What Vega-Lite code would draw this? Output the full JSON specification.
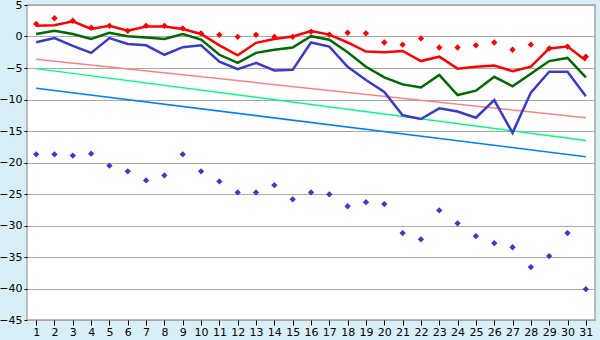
{
  "$schema": "https://vega.github.io/schema/vega-lite/v6.json",
  "autosize": "none",
  "width": 568,
  "height": 315,
  "padding": {"left": 27, "top": 5, "right": 5, "bottom": 20},
  "background": "#d9eff7",
  "config": {
    "view": {"fill": "white", "stroke": "#a8a8a8", "strokeWidth": 1.5},
    "axis": {"labelFont": "DejaVu Sans", "labelFontSize": 11, "labelColor": "#000000", "domain": false}
  },
  "datasets": {
    "lines": [
      {"day": 1, "series": "blue", "value": -0.9}, {"day": 2, "series": "blue", "value": -0.26}, {"day": 3, "series": "blue", "value": -1.5}, {"day": 4, "series": "blue", "value": -2.6}, {"day": 5, "series": "blue", "value": -0.26}, {"day": 6, "series": "blue", "value": -1.2}, {"day": 7, "series": "blue", "value": -1.4}, {"day": 8, "series": "blue", "value": -2.9}, {"day": 9, "series": "blue", "value": -1.7}, {"day": 10, "series": "blue", "value": -1.4}, {"day": 11, "series": "blue", "value": -4.0}, {"day": 12, "series": "blue", "value": -5.2}, {"day": 13, "series": "blue", "value": -4.2}, {"day": 14, "series": "blue", "value": -5.4}, {"day": 15, "series": "blue", "value": -5.3}, {"day": 16, "series": "blue", "value": -0.95}, {"day": 17, "series": "blue", "value": -1.6}, {"day": 18, "series": "blue", "value": -4.8}, {"day": 19, "series": "blue", "value": -6.9}, {"day": 20, "series": "blue", "value": -8.8}, {"day": 21, "series": "blue", "value": -12.5}, {"day": 22, "series": "blue", "value": -13.1}, {"day": 23, "series": "blue", "value": -11.4}, {"day": 24, "series": "blue", "value": -11.9}, {"day": 25, "series": "blue", "value": -12.9}, {"day": 26, "series": "blue", "value": -10.1}, {"day": 27, "series": "blue", "value": -15.3}, {"day": 28, "series": "blue", "value": -8.9}, {"day": 29, "series": "blue", "value": -5.6}, {"day": 30, "series": "blue", "value": -5.6}, {"day": 31, "series": "blue", "value": -9.5},
      {"day": 1, "series": "green", "value": 0.4}, {"day": 2, "series": "green", "value": 0.9}, {"day": 3, "series": "green", "value": 0.4}, {"day": 4, "series": "green", "value": -0.4}, {"day": 5, "series": "green", "value": 0.6}, {"day": 6, "series": "green", "value": 0.05}, {"day": 7, "series": "green", "value": -0.15}, {"day": 8, "series": "green", "value": -0.4}, {"day": 9, "series": "green", "value": 0.4}, {"day": 10, "series": "green", "value": -0.5}, {"day": 11, "series": "green", "value": -2.9}, {"day": 12, "series": "green", "value": -4.2}, {"day": 13, "series": "green", "value": -2.6}, {"day": 14, "series": "green", "value": -2.1}, {"day": 15, "series": "green", "value": -1.75}, {"day": 16, "series": "green", "value": 0.05}, {"day": 17, "series": "green", "value": -0.5}, {"day": 18, "series": "green", "value": -2.5}, {"day": 19, "series": "green", "value": -4.8}, {"day": 20, "series": "green", "value": -6.5}, {"day": 21, "series": "green", "value": -7.6}, {"day": 22, "series": "green", "value": -8.1}, {"day": 23, "series": "green", "value": -6.1}, {"day": 24, "series": "green", "value": -9.3}, {"day": 25, "series": "green", "value": -8.6}, {"day": 26, "series": "green", "value": -6.4}, {"day": 27, "series": "green", "value": -7.9}, {"day": 28, "series": "green", "value": -5.9}, {"day": 29, "series": "green", "value": -3.9}, {"day": 30, "series": "green", "value": -3.4}, {"day": 31, "series": "green", "value": -6.5},
      {"day": 1, "series": "red", "value": 1.7}, {"day": 2, "series": "red", "value": 1.8}, {"day": 3, "series": "red", "value": 2.4}, {"day": 4, "series": "red", "value": 1.2}, {"day": 5, "series": "red", "value": 1.7}, {"day": 6, "series": "red", "value": 0.9}, {"day": 7, "series": "red", "value": 1.6}, {"day": 8, "series": "red", "value": 1.6}, {"day": 9, "series": "red", "value": 1.2}, {"day": 10, "series": "red", "value": 0.4}, {"day": 11, "series": "red", "value": -1.4}, {"day": 12, "series": "red", "value": -3.0}, {"day": 13, "series": "red", "value": -1.0}, {"day": 14, "series": "red", "value": -0.4}, {"day": 15, "series": "red", "value": 0.0}, {"day": 16, "series": "red", "value": 0.85}, {"day": 17, "series": "red", "value": 0.3}, {"day": 18, "series": "red", "value": -0.95}, {"day": 19, "series": "red", "value": -2.4}, {"day": 20, "series": "red", "value": -2.5}, {"day": 21, "series": "red", "value": -2.3}, {"day": 22, "series": "red", "value": -3.9}, {"day": 23, "series": "red", "value": -3.2}, {"day": 24, "series": "red", "value": -5.1}, {"day": 25, "series": "red", "value": -4.8}, {"day": 26, "series": "red", "value": -4.6}, {"day": 27, "series": "red", "value": -5.5}, {"day": 28, "series": "red", "value": -4.8}, {"day": 29, "series": "red", "value": -1.9}, {"day": 30, "series": "red", "value": -1.6}, {"day": 31, "series": "red", "value": -3.8}
    ],
    "trends": [
      {"day": 1, "series": "pink", "value": -3.6}, {"day": 31, "series": "pink", "value": -12.9},
      {"day": 1, "series": "lightgreen", "value": -5.1}, {"day": 31, "series": "lightgreen", "value": -16.5},
      {"day": 1, "series": "lightblue", "value": -8.2}, {"day": 31, "series": "lightblue", "value": -19.1}
    ],
    "points": [
      {"day": 1, "series": "red", "value": 2.0}, {"day": 2, "series": "red", "value": 2.9}, {"day": 3, "series": "red", "value": 2.5}, {"day": 4, "series": "red", "value": 1.4}, {"day": 5, "series": "red", "value": 1.7}, {"day": 6, "series": "red", "value": 0.9}, {"day": 7, "series": "red", "value": 1.7}, {"day": 8, "series": "red", "value": 1.7}, {"day": 9, "series": "red", "value": 1.3}, {"day": 10, "series": "red", "value": 0.5}, {"day": 11, "series": "red", "value": 0.26}, {"day": 12, "series": "red", "value": -0.05}, {"day": 13, "series": "red", "value": 0.26}, {"day": 14, "series": "red", "value": -0.05}, {"day": 15, "series": "red", "value": -0.05}, {"day": 16, "series": "red", "value": 0.75}, {"day": 17, "series": "red", "value": 0.3}, {"day": 18, "series": "red", "value": 0.6}, {"day": 19, "series": "red", "value": 0.5}, {"day": 20, "series": "red", "value": -0.95}, {"day": 21, "series": "red", "value": -1.3}, {"day": 22, "series": "red", "value": -0.3}, {"day": 23, "series": "red", "value": -1.75}, {"day": 24, "series": "red", "value": -1.75}, {"day": 25, "series": "red", "value": -1.4}, {"day": 26, "series": "red", "value": -0.95}, {"day": 27, "series": "red", "value": -2.1}, {"day": 28, "series": "red", "value": -1.3}, {"day": 29, "series": "red", "value": -1.9}, {"day": 30, "series": "red", "value": -1.6}, {"day": 31, "series": "red", "value": -3.2},
      {"day": 1, "series": "blue", "value": -18.7}, {"day": 2, "series": "blue", "value": -18.7}, {"day": 3, "series": "blue", "value": -18.9}, {"day": 4, "series": "blue", "value": -18.6}, {"day": 5, "series": "blue", "value": -20.5}, {"day": 6, "series": "blue", "value": -21.4}, {"day": 7, "series": "blue", "value": -22.85}, {"day": 8, "series": "blue", "value": -22.05}, {"day": 9, "series": "blue", "value": -18.7}, {"day": 10, "series": "blue", "value": -21.4}, {"day": 11, "series": "blue", "value": -23.0}, {"day": 12, "series": "blue", "value": -24.75}, {"day": 13, "series": "blue", "value": -24.75}, {"day": 14, "series": "blue", "value": -23.6}, {"day": 15, "series": "blue", "value": -25.85}, {"day": 16, "series": "blue", "value": -24.75}, {"day": 17, "series": "blue", "value": -25.05}, {"day": 18, "series": "blue", "value": -26.95}, {"day": 19, "series": "blue", "value": -26.3}, {"day": 20, "series": "blue", "value": -26.6}, {"day": 21, "series": "blue", "value": -31.2}, {"day": 22, "series": "blue", "value": -32.2}, {"day": 23, "series": "blue", "value": -27.6}, {"day": 24, "series": "blue", "value": -29.65}, {"day": 25, "series": "blue", "value": -31.7}, {"day": 26, "series": "blue", "value": -32.8}, {"day": 27, "series": "blue", "value": -33.45}, {"day": 28, "series": "blue", "value": -36.6}, {"day": 29, "series": "blue", "value": -34.85}, {"day": 30, "series": "blue", "value": -31.2}, {"day": 31, "series": "blue", "value": -40.1}
    ]
  },
  "encoding": {
    "x": {
      "field": "day", "type": "quantitative",
      "scale": {"domain": [0.5, 31.5], "nice": false, "zero": false},
      "axis": {"title": null, "values": [1,2,3,4,5,6,7,8,9,10,11,12,13,14,15,16,17,18,19,20,21,22,23,24,25,26,27,28,29,30,31], "grid": false, "tickColor": "#000000", "tickSize": 5, "labelPadding": 1, "labelFlush": false}
    },
    "y": {
      "field": "value", "type": "quantitative",
      "scale": {"domain": [-45, 5], "nice": false, "zero": false},
      "axis": {"title": null, "values": [-45,-40,-35,-30,-25,-20,-15,-10,-5,0,5], "grid": true, "gridColor": "#a8a8a8", "gridWidth": 1.2, "gridOpacity": 1, "tickColor": "#000000", "tickSize": 3, "labelPadding": 2}
    },
    "color": {
      "field": "series", "type": "nominal", "legend": null,
      "scale": {
        "domain": ["red", "green", "blue", "pink", "lightgreen", "lightblue"],
        "range": ["#ff0000", "#006a00", "#3a3acc", "#ff8080", "#00ff80", "#0080ff"]
      }
    }
  },
  "layer": [
    {"data": {"name": "trends"}, "mark": {"type": "line", "strokeWidth": 1.5}, "encoding": {"detail": {"field": "series"}}},
    {"data": {"name": "lines"}, "mark": {"type": "line", "strokeWidth": 2.5}, "encoding": {"detail": {"field": "series"}}},
    {"data": {"name": "points"}, "mark": {"type": "point", "shape": "diamond", "filled": true, "size": 40, "opacity": 1}}
  ]
}
